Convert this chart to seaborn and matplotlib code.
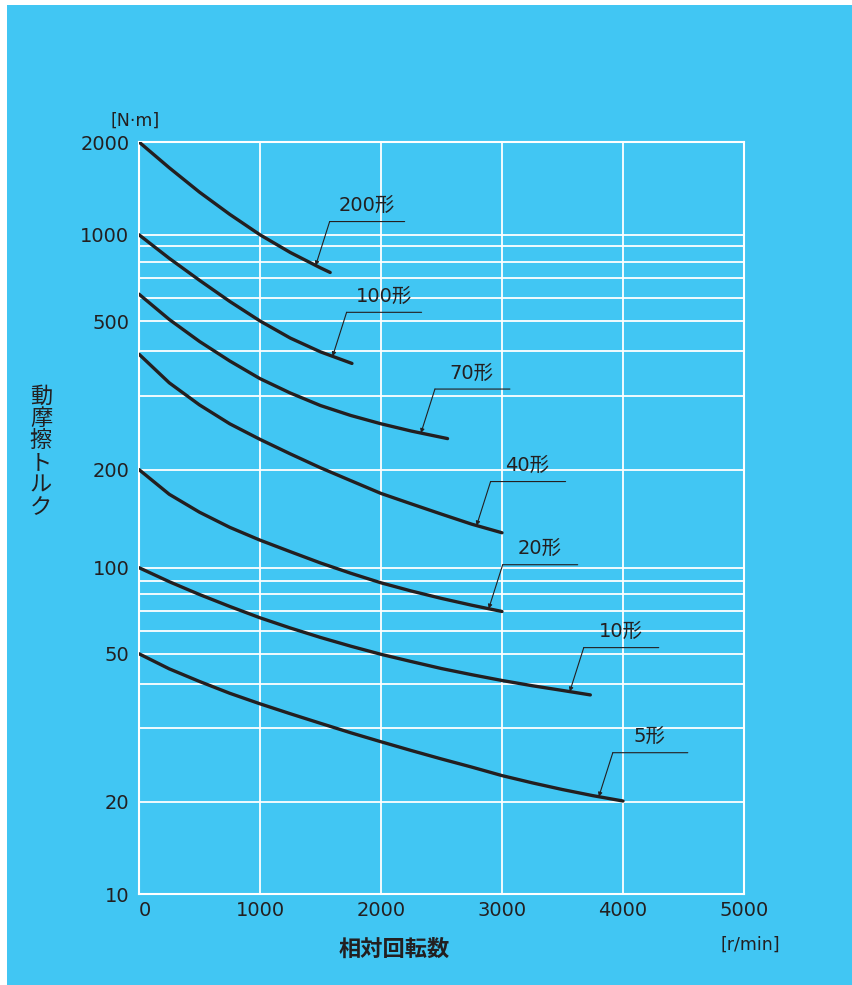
import numpy as np
import pandas as pd
import matplotlib
matplotlib.use("Agg")
import matplotlib.pyplot as plt
from matplotlib.patches import Rectangle
from matplotlib.ticker import NullFormatter
import seaborn as sns

# values: relative speed [r/min] vs dynamic friction torque [N·m]
models = ["200形", "100形", "70形", "40形", "20形", "10形", "5形"]

rpm_200 = [0, 250, 500, 750, 1000, 1250, 1500, 1580]
trq_200 = [2000, 1650, 1375, 1165, 1000, 860, 763, 735]

rpm_100 = [0, 250, 500, 750, 1000, 1250, 1500, 1760]
trq_100 = [1000, 823, 690, 586, 502, 442, 399, 370]

rpm_70 = [0, 250, 500, 750, 1000, 1250, 1500, 1750, 2000, 2250, 2550]
trq_70 = [620, 508, 431, 376, 335, 305, 284, 269, 257, 247, 237]

rpm_40 = [0, 250, 500, 750, 1000, 1250, 1500, 1750, 2000, 2250, 2500, 2750,
          3000]
trq_40 = [393, 326, 285, 257, 236, 218, 202, 185, 169, 157, 146, 136, 128]

rpm_20 = [0, 250, 500, 750, 1000, 1250, 1500, 1750, 2000, 2250, 2500, 2750,
          3000]
trq_20 = [200, 168, 148, 133, 121.5, 112, 103.4, 95.6, 88.3, 82.0, 77.1, 73.1,
          69.6]

rpm_10 = [0, 250, 500, 750, 1000, 1250, 1500, 1750, 2000, 2250, 2500, 2750,
          3000, 3250, 3500, 3730]
trq_10 = [100, 89.2, 79.5, 72.4, 66.3, 61.3, 56.9, 53.1, 49.8, 47.2, 44.8,
          42.8, 41.0, 39.5, 38.3, 37.2]

rpm_5 = [0, 250, 500, 750, 1000, 1250, 1500, 1750, 2000, 2250, 2500, 2750,
         3000, 3250, 3500, 3750, 4000]
trq_5 = [50, 44.7, 40.7, 37.6, 35.1, 32.9, 30.9, 29.2, 27.8, 26.5, 25.3, 24.2,
         23.1, 22.2, 21.4, 20.7, 20.1]

# speed at which each label's leader arrow touches its curve
label_rpm = [1460, 1600, 2330, 2790, 2890, 3560, 3800]

x_ticks = [0, 1000, 2000, 3000, 4000, 5000]
y_major = [10, 20, 50, 100, 200, 500, 1000, 2000]
y_minor = [30, 40, 60, 70, 80, 90, 300, 400, 600, 700, 800, 900]

# the printed log grid is not evenly spaced: pixel row of each grid line
# (894 = bottom at 10, 142.7 = top at 2000), used to build the y scale
grid_vals = [10, 20, 30, 40, 50, 60, 70, 80, 90, 100,
             200, 300, 400, 500, 600, 700, 800, 900, 1000, 2000]
grid_rows = [894, 802, 728, 684, 654, 631, 611, 594, 581, 568,
             470, 396, 352, 322, 299, 279, 262.7, 247, 235.4, 142.7]

series = [(rpm_200, trq_200), (rpm_100, trq_100), (rpm_70, trq_70),
          (rpm_40, trq_40), (rpm_20, trq_20), (rpm_10, trq_10), (rpm_5, trq_5)]
df = pd.concat([pd.DataFrame({"model": m, "rpm": r, "torque": t})
                for m, (r, t) in zip(models, series)], ignore_index=True)

log_g = np.log10(grid_vals)
frac_g = (894 - np.array(grid_rows)) / (894 - 142.7)


def fwd(v):
    v = np.clip(np.asarray(v, dtype=float), 1e-6, None)
    return np.interp(np.log10(v), log_g, frac_g)


def inv(f):
    return 10 ** np.interp(np.asarray(f, dtype=float), frac_g, log_g)


BLUE = "#41c6f3"
INK = "#231f20"

sns.set_theme(style="white")
plt.rcParams["font.family"] = ["DejaVu Sans", "Noto Sans CJK JP"]

W, H = 853, 985
fig = plt.figure(figsize=(W / 100, H / 100), dpi=100)
fig.patches.append(Rectangle((7 / W, 0), (W - 7) / W, (H - 5) / H,
                             transform=fig.transFigure, facecolor=BLUE,
                             edgecolor="none", zorder=-1))
ax = fig.add_axes([139 / W, 91 / H, 605 / W, 752 / H])
ax.set_facecolor(BLUE)
ax.set_yscale("function", functions=(fwd, inv))

sns.lineplot(data=df, x="rpm", y="torque", hue="model", hue_order=models,
             palette=[INK] * len(models), estimator=None, sort=False,
             legend=False, linewidth=2.4, solid_joinstyle="round",
             ax=ax, zorder=3)

ax.set_xlim(0, 5000)
ax.set_ylim(10, 2000)
ax.set_xticks(x_ticks, [str(v) for v in x_ticks])
ax.set_yticks(y_major, [str(v) for v in y_major])
ax.set_yticks(y_minor, minor=True)
ax.yaxis.set_minor_formatter(NullFormatter())
ax.grid(True, which="both", color="white", linewidth=1.3)
ax.tick_params(which="both", length=0, labelsize=14, colors=INK)
ax.tick_params(axis="y", pad=7)
ax.tick_params(axis="x", pad=5)
ax.get_xticklabels()[0].set_horizontalalignment("left")
for s in ax.spines.values():
    s.set_color("white")
    s.set_linewidth(1.5)
ax.set_xlabel("")
ax.set_ylabel("")

# leader lines with labels
fig.canvas.draw()
for m, (r, t), lr in zip(models, series, label_rpm):
    lv = 10 ** np.interp(lr, r, np.log10(t))
    tx, ty = ax.transData.transform((lr, lv))
    kx, ky = tx + 14, ty + 44
    ax.annotate("", xy=(lr, lv), xytext=(kx, ky), textcoords="figure pixels",
                arrowprops=dict(arrowstyle="-|>", color=INK, lw=0.8,
                                mutation_scale=6, shrinkA=0, shrinkB=0))
    ax.annotate("", xy=(kx + 75, ky), xycoords="figure pixels",
                xytext=(kx, ky), textcoords="figure pixels",
                arrowprops=dict(arrowstyle="-", color=INK, lw=0.8,
                                shrinkA=0, shrinkB=0))
    ax.annotate(m, xy=(kx + 37, ky + 16), xycoords="figure pixels",
                ha="center", va="center", fontsize=14, color=INK)

fig.text(135 / W, 1 - 121 / H, "[N·m]", ha="center", va="center",
         fontsize=12.5, color=INK)
fig.text(750 / W, 1 - 945 / H, "[r/min]", ha="center", va="center",
         fontsize=12.5, color=INK)
fig.text(394 / W, 1 - 949 / H, "相対回転数", ha="center", va="center",
         fontsize=16, fontweight="bold", color=INK,
         family=["Noto Sans CJK JP", "DejaVu Sans"])
fig.text(41 / W, 1 - 452 / H, "\n".join("動摩擦トルク"), ha="center",
         va="center", fontsize=16, linespacing=0.95, color=INK,
         family=["Noto Sans CJK JP", "DejaVu Sans"])

fig.savefig("out.png", dpi=100)
